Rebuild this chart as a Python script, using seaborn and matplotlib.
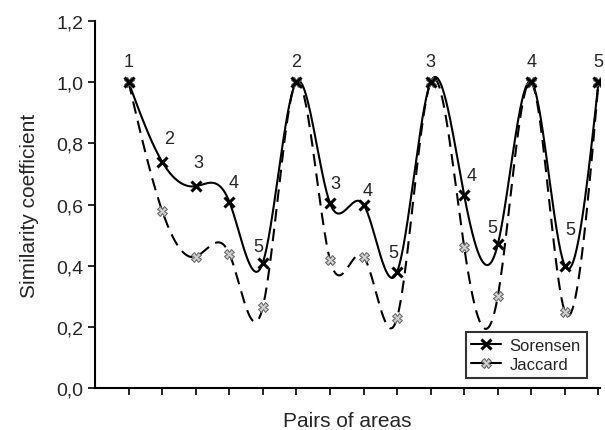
import numpy as np
import pandas as pd
import seaborn as sns
import matplotlib.pyplot as plt
from matplotlib.lines import Line2D
from matplotlib.ticker import FuncFormatter

# values
pairs = list(range(1, 16))
sorensen = [1.00, 0.74, 0.66, 0.61, 0.41, 1.00, 0.605, 0.60, 0.38, 1.00, 0.63, 0.47, 1.00, 0.40, 1.00]
jaccard = [1.00, 0.58, 0.43, 0.44, 0.265, 1.00, 0.42, 0.43, 0.23, 1.00, 0.46, 0.30, 1.00, 0.25, 1.00]
point_labels = ['1', '2', '3', '4', '5', '2', '3', '4', '5', '3', '4', '5', '4', '5', '5']

# label offsets from each Sorensen point, in points
label_offsets = [(0, 15), (5, 17), (2, 17), (3, 14), (-3, 12), (0, 15), (4, 14), (3, 10),
                 (-3, 14), (0, 15), (5, 14), (-4, 12), (0, 15), (4, 26), (0, 15)]


def natural_spline(x, y, n=60):
    # smooth connection line through the points (like Origin's "spline" connect)
    x = np.asarray(x, float)
    y = np.asarray(y, float)
    k = len(x)
    h = np.diff(x)
    A = np.zeros((k, k))
    b = np.zeros(k)
    A[0, 0] = A[-1, -1] = 1
    for i in range(1, k - 1):
        A[i, i - 1] = h[i - 1]
        A[i, i] = 2 * (h[i - 1] + h[i])
        A[i, i + 1] = h[i]
        b[i] = 6 * ((y[i + 1] - y[i]) / h[i] - (y[i] - y[i - 1]) / h[i - 1])
    M = np.linalg.solve(A, b)
    xs, ys = [], []
    for i in range(k - 1):
        t = np.linspace(x[i], x[i + 1], n, endpoint=(i == k - 2))
        a = x[i + 1] - t
        c = t - x[i]
        s = (M[i] * a ** 3 + M[i + 1] * c ** 3) / (6 * h[i]) \
            + (y[i] / h[i] - M[i] * h[i] / 6) * a \
            + (y[i + 1] / h[i] - M[i + 1] * h[i] / 6) * c
        xs.append(t)
        ys.append(s)
    return np.concatenate(xs), np.concatenate(ys)


sx, sy = natural_spline(pairs, sorensen)
jx, jy = natural_spline(pairs, jaccard)
curves = pd.concat([
    pd.DataFrame({'x': sx, 'y': sy, 'index': 'Sorensen'}),
    pd.DataFrame({'x': jx, 'y': jy, 'index': 'Jaccard'}),
])

sns.set_style("ticks")
plt.rcParams['font.family'] = ['Liberation Sans', 'DejaVu Sans']

fig = plt.figure(figsize=(6.05, 4.31), dpi=100)
ax = fig.add_axes([0.157, 0.097, 0.835, 0.852])

sns.lineplot(data=curves, x='x', y='y', style='index', color='black',
             dashes={'Sorensen': '', 'Jaccard': (6, 3.5)}, linewidth=1.5,
             sort=False, estimator=None, legend=False, ax=ax)

ax.plot(pairs, jaccard, linestyle='none', marker='X', markersize=7,
        markerfacecolor='#cfcfcf', markeredgecolor='#606060', markeredgewidth=0.7)
ax.plot(pairs, sorensen, linestyle='none', marker='x', markersize=7,
        color='black', markeredgewidth=2.2)

for xv, yv, lab, off in zip(pairs, sorensen, point_labels, label_offsets):
    ax.annotate(lab, (xv, yv), xytext=off, textcoords='offset points',
                ha='center', va='center', fontsize=13)

ax.set_xlim(0, 15.05)
ax.set_ylim(0, 1.2)
ax.set_xticks(pairs)
ax.set_xticklabels([])
ax.set_yticks(np.arange(0, 1.21, 0.2))
ax.yaxis.set_major_formatter(FuncFormatter(lambda v, p: f'{v:.1f}'.replace('.', ',')))
ax.tick_params(axis='both', direction='out', length=5, width=1.2, labelsize=14, color='black')
for side in ['left', 'bottom']:
    ax.spines[side].set_linewidth(1.5)
    ax.spines[side].set_color('black')
sns.despine(ax=ax)

ax.set_xlabel('Pairs of areas', fontsize=15, labelpad=8)
ax.set_ylabel('Similarity coefficient', fontsize=15, labelpad=12)

handles = [
    Line2D([], [], color='black', linewidth=1.5, marker='x', markersize=7, markeredgewidth=2.2),
    Line2D([], [], color='black', linewidth=1.5, marker='X', markersize=7,
           markerfacecolor='#cfcfcf', markeredgecolor='#606060', markeredgewidth=0.7),
]
leg = ax.legend(handles, ['Sorensen', 'Jaccard'], loc='lower right', fontsize=12,
                frameon=True, fancybox=False, handlelength=1.8, handletextpad=0.5,
                borderpad=0.35, labelspacing=0.25, bbox_to_anchor=(0.99, 0.005))
leg.get_frame().set_edgecolor('black')
leg.get_frame().set_linewidth(1.5)

plt.savefig('out.png', dpi=100)
